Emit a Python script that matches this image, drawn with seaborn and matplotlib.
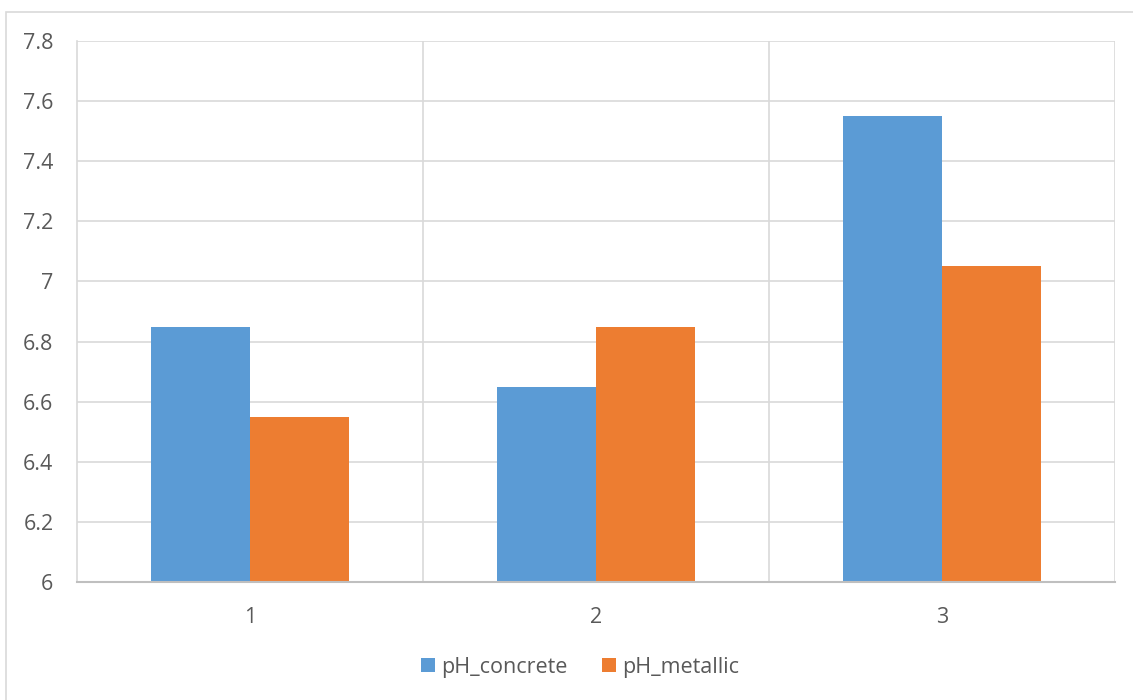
import pandas as pd
import matplotlib.pyplot as plt
import seaborn as sns
from matplotlib.patches import Rectangle

# === Data ===
samples = ["1", "2", "3"]
ph_concrete = [6.85, 6.65, 7.55]
ph_metallic = [6.55, 6.85, 7.05]
series_names = ["pH_concrete", "pH_metallic"]
y_ticks = [6, 6.2, 6.4, 6.6, 6.8, 7, 7.2, 7.4, 7.6, 7.8]
y_tick_labels = ["6", "6.2", "6.4", "6.6", "6.8", "7", "7.2", "7.4", "7.6", "7.8"]

df = pd.DataFrame({
    "sample": samples * 2,
    "pH": ph_concrete + ph_metallic,
    "series": [series_names[0]] * 3 + [series_names[1]] * 3,
})

sns.set_style("white")
plt.rcParams["font.family"] = ["Open Sans", "DejaVu Sans"]

text_color = "#595959"
grid_color = "#d9d9d9"

fig = plt.figure(figsize=(11.33, 7), dpi=100)
ax = fig.add_axes([77 / 1133, 1 - 582 / 700, (1115 - 77) / 1133, (582 - 41) / 700])

sns.barplot(
    data=df, x="sample", y="pH", hue="series", hue_order=series_names,
    palette=["#5b9bd5", "#ed7d31"], width=0.57, gap=0, saturation=1,
    ax=ax, zorder=3, edgecolor="none",
)

ax.set_ylim(6, 7.8)
ax.set_xlim(-0.5, 2.5)
ax.set_yticks(y_ticks)
ax.set_yticklabels(y_tick_labels)
ax.set_xlabel("")
ax.set_ylabel("")
ax.tick_params(axis="both", length=0, labelsize=15.5, colors=text_color)
ax.tick_params(axis="y", pad=17)
ax.tick_params(axis="x", pad=18)

# gridlines
for y in y_ticks[1:]:
    ax.axhline(y, color=grid_color, lw=1.2, zorder=1)
for x in [0.5, 1.5, 2.5]:
    ax.axvline(x, color=grid_color, lw=1.2, zorder=1)

for side in ["top", "right"]:
    ax.spines[side].set_visible(False)
ax.spines["left"].set_color(grid_color)
ax.spines["left"].set_linewidth(1.2)
ax.spines["bottom"].set_color("#bfbfbf")
ax.spines["bottom"].set_linewidth(1.5)
ax.spines["bottom"].set_zorder(4)

ax.legend(
    loc="center", bbox_to_anchor=(580 / 1133, 1 - 667 / 700),
    bbox_transform=fig.transFigure, ncol=2, frameon=False,
    fontsize=15.5, labelcolor=text_color, handlelength=0.65, handleheight=0.65,
    handletextpad=0.3, columnspacing=1.6,
)

# outer chart border
fig.patches.append(Rectangle(
    (6 / 1133, -0.01), 1.1, 1 - 12 / 700 + 0.01, transform=fig.transFigure,
    fill=False, edgecolor=grid_color, lw=1.2,
))

fig.savefig("out.png", dpi=100)
